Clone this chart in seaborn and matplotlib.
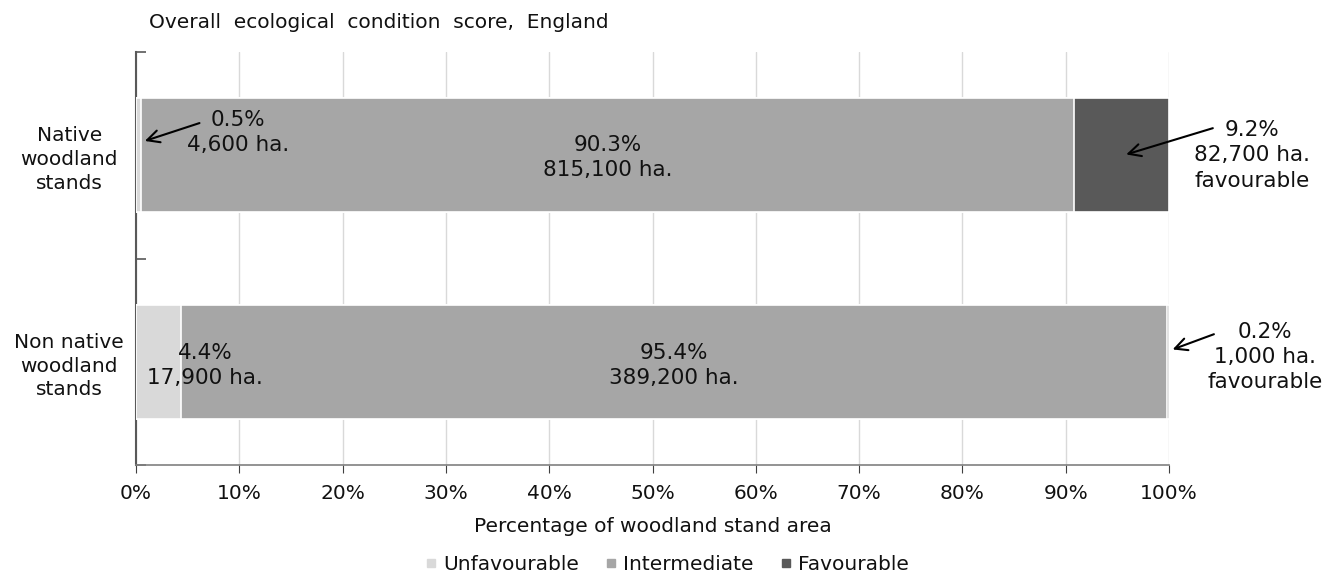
import pandas as pd
import numpy as np
import seaborn as sns
import matplotlib.pyplot as plt
from matplotlib.lines import Line2D

# data
stands = ["Native\nwoodland\nstands", "Non native\nwoodland\nstands"]
unfavourable = [0.5, 4.4]
intermediate = [90.3, 95.4]
favourable = [9.2, 0.2]
ha_unfav = ["4,600", "17,900"]
ha_inter = ["815,100", "389,200"]
ha_fav = ["82,700", "1,000"]
categories = ["Unfavourable", "Intermediate", "Favourable"]
colours = ["#d9d9d9", "#a6a6a6", "#595959"]

df = pd.DataFrame({"stand": stands, "Unfavourable": unfavourable,
                   "Intermediate": intermediate, "Favourable": favourable})
# cumulative totals so the bars can be layered into a stack
df["upto_unfav"] = df["Unfavourable"]
df["upto_inter"] = df["upto_unfav"] + df["Intermediate"]
df["upto_fav"] = df["upto_inter"] + df["Favourable"]

sns.set_style("white")
plt.rcParams["font.family"] = ["DejaVu Sans"]
plt.rcParams["text.color"] = "#111111"

fig = plt.figure(figsize=(13.24, 5.76), dpi=100)
ax = fig.add_axes([136 / 1324, 1 - 465 / 576, 1033 / 1324, 413 / 576])

# draw from the longest to shortest so each layer shows as a segment
for col, c in zip(["upto_fav", "upto_inter", "upto_unfav"], colours[::-1]):
    sns.barplot(data=df, x=col, y="stand", orient="h", color=c, saturation=1,
                width=0.55, edgecolor="white", linewidth=1.2, ax=ax, zorder=3)

ax.set_xlim(0, 100)
ax.set_ylim(1.5, -0.5)
ax.set_xticks(np.arange(0, 101, 10))
ax.set_xticklabels([f"{v}%" for v in range(0, 101, 10)], fontsize=14.5, color="#111111")
ax.grid(axis="x", color="#d9d9d9", lw=1, zorder=0)
ax.grid(axis="y", visible=False)
ax.set_xlabel("Percentage of woodland stand area", fontsize=14.5, labelpad=10, color="#111111")
ax.set_ylabel("")

ax.set_yticks([0, 1])
ax.set_yticklabels(stands, fontsize=14.5, ha="center", linespacing=1.32, color="#111111")
ax.tick_params(axis="y", which="major", length=0, pad=48)
ax.set_yticks([-0.5, 0.5, 1.5], minor=True)
ax.tick_params(axis="y", which="minor", left=True, length=7, width=1.2,
               direction="in", color="#595959")
ax.tick_params(axis="x", length=6, direction="out", color="#404040", bottom=True, pad=8)

for s in ["top", "right"]:
    ax.spines[s].set_visible(False)
ax.spines["left"].set_color("#595959")
ax.spines["left"].set_linewidth(1.5)
ax.spines["bottom"].set_color("#808080")
ax.spines["bottom"].set_linewidth(1.2)

fs = 15.5
ls = 1.33
arrow = dict(arrowstyle="->", lw=1.5, color="black", mutation_scale=22)

# native woodland labels
ax.text(9.9, -0.11, f"{unfavourable[0]}%\n{ha_unfav[0]} ha.", ha="center", va="center",
        fontsize=fs, linespacing=ls, zorder=5)
ax.annotate("", xy=(0.6, -0.065), xytext=(6.4, -0.16), arrowprops=arrow, zorder=5)
ax.text(unfavourable[0] + intermediate[0] / 2, 0.012, f"{intermediate[0]}%\n{ha_inter[0]} ha.",
        ha="center", va="center", fontsize=fs, linespacing=ls, zorder=5)
ax.text(108.0, 0.0, f"{favourable[0]}%\n{ha_fav[0]} ha.\nfavourable", ha="center", va="center",
        fontsize=fs, linespacing=ls, zorder=5, clip_on=False)
ax.annotate("", xy=(95.6, 0.0), xytext=(104.5, -0.135), arrowprops=arrow,
            zorder=5, annotation_clip=False)

# non native woodland labels
ax.text(6.7, 1.017, f"{unfavourable[1]}%\n{ha_unfav[1]} ha.", ha="center", va="center",
        fontsize=fs, linespacing=ls, zorder=5)
ax.text(unfavourable[1] + intermediate[1] / 2, 1.017, f"{intermediate[1]}%\n{ha_inter[1]} ha.",
        ha="center", va="center", fontsize=fs, linespacing=ls, zorder=5)
ax.text(109.3, 0.978, f"{favourable[1]}%\n{ha_fav[1]} ha.\nfavourable", ha="center", va="center",
        fontsize=fs, linespacing=ls, zorder=5, clip_on=False)
ax.annotate("", xy=(100.1, 0.945), xytext=(104.6, 0.862), arrowprops=arrow,
            zorder=5, annotation_clip=False)

fig.text(149 / 1324, 1 - 22 / 576, "Overall  ecological  condition  score,  England",
         fontsize=14.5, va="center", ha="left", color="#111111")

handles = [Line2D([], [], marker="s", ls="none", markersize=6, color=c) for c in colours]
fig.legend(handles, categories, loc="center", bbox_to_anchor=(667 / 1324, 1 - 565 / 576),
           ncol=3, frameon=False, fontsize=14.5, handletextpad=0.3, columnspacing=1.3,
           handlelength=0.6)

fig.savefig("out.png", dpi=100)
